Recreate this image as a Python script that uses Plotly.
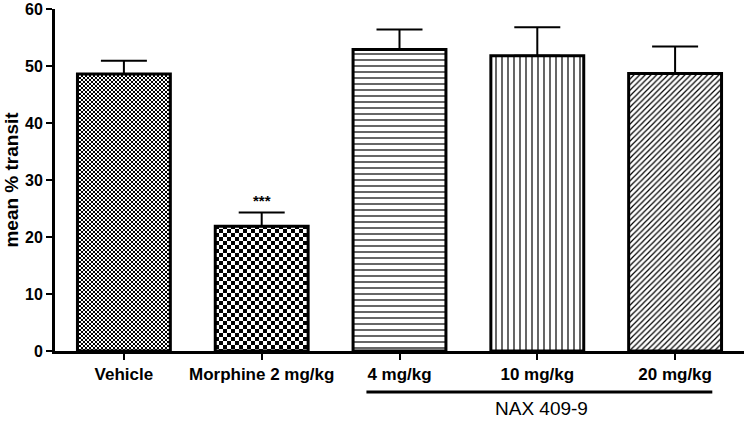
import plotly.graph_objects as go

# ── Data ────────────────────────────────────────────────────────────────────
categories = ["Vehicle", "Morphine 2 mg/kg", "4 mg/kg", "10 mg/kg", "20 mg/kg"]
mean_transit = [48.6, 21.9, 52.9, 51.8, 48.7]
sem_upper = [2.3, 2.4, 3.5, 5.0, 4.7]
y_ticks = [0, 10, 20, 30, 40, 50, 60]

FONT = "Liberation Sans, Arial, sans-serif"


def checker(size):
    h = size / 2
    return f"M0,0H{h}V{h}H0Z M{h},{h}H{size}V{size}H{h}Z"


# fill style of each bar: (shape, size, solidity, checker-path or None)
styles = [
    ("x", 4, 0.55, 4),
    ("x", 8, 0.5, 8),
    ("-", 6, 0.2, None),
    ("|", 6, 0.2, None),
    ("/", 4, 0.3, None),
]

fig = go.Figure()
for i, cat in enumerate(categories):
    shape, size, solidity, chk = styles[i]
    pattern = dict(shape=shape, size=size, solidity=solidity,
                   fgcolor="black", bgcolor="white", fillmode="replace")
    bar = go.Bar(
        x=[i], y=[mean_transit[i]], name=cat,
        marker=dict(color="white", line=dict(color="black", width=3),
                    pattern=pattern),
        error_y=dict(type="data", symmetric=False, array=[sem_upper[i]],
                     arrayminus=[0], color="black", thickness=2, width=23),
        showlegend=False,
    )
    if chk:
        try:
            bar.update(marker_pattern_path=checker(chk), marker_pattern_shape="")
        except Exception:
            pass
    fig.add_trace(bar)

# significance stars over morphine
fig.add_annotation(x=1, y=mean_transit[1] + sem_upper[1], text="***",
                   showarrow=False, yanchor="bottom", yshift=1,
                   font=dict(family=FONT, size=15, color="black", weight="bold"))

# NAX 409-9 group bracket
fig.add_shape(type="line", xref="x", yref="paper", x0=1.76, x1=4.27,
              y0=-0.12, y1=-0.12, line=dict(color="black", width=3))
fig.add_annotation(x=3.03, xref="x", yref="paper", y=-0.168, text="NAX 409-9",
                   showarrow=False, yanchor="middle",
                   font=dict(family=FONT, size=19, color="black"))

fig.update_layout(
    width=747, height=423,
    margin=dict(l=55, r=3, t=9, b=72),
    plot_bgcolor="white", paper_bgcolor="white",
    barmode="overlay", bargap=0.326,
    font=dict(family=FONT, color="black"),
    xaxis=dict(
        range=[-0.5, 4.5], tickmode="array", automargin=False,
        tickvals=list(range(len(categories))), ticktext=categories,
        showline=True, linewidth=3, linecolor="black",
        ticks="outside", ticklen=6, tickwidth=2, tickcolor="black",
        tickfont=dict(family=FONT, size=17, weight="bold"),
        showgrid=False, zeroline=False,
    ),
    yaxis=dict(
        range=[0, 60], tickmode="array", tickvals=y_ticks, automargin=False,
        ticklabeloverflow="allow",
        showline=True, linewidth=3, linecolor="black",
        ticks="outside", ticklen=6, tickwidth=2, tickcolor="black",
        tickfont=dict(family=FONT, size=16, weight="bold"),
        title=dict(text="mean % transit", standoff=2,
                   font=dict(family=FONT, size=19, weight="bold")),
        showgrid=False, zeroline=False,
    ),
)

fig.write_html("out.html", config={"displayModeBar": False},
               post_script="document.body.style.margin='0';")
